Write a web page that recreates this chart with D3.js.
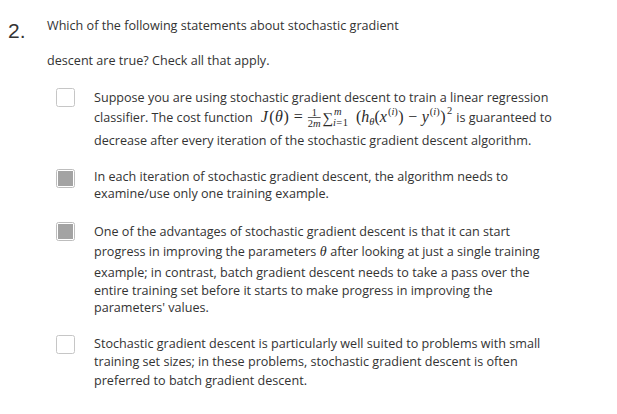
<!DOCTYPE html>
<html>
<head>
<meta charset="utf-8">
<script src="https://cdn.jsdelivr.net/npm/d3@7"></script>
<style>
  html, body { margin: 0; padding: 0; background: #fff; }
  svg { display: block; }
  .txt { font-family: "Open Sans", sans-serif; font-size: 12.6px; fill: #333; }
  .num { font-family: "Liberation Sans", Arial, sans-serif; font-size: 21px; fill: #333; }
  .math { font-family: "Liberation Serif", serif; font-style: italic; fill: #2a2a2a; }
</style>
</head>
<body>
<div class="quiz"></div>
<script>
// question data
let questionNo = '2.';
let questionLines = [
  'Which of the following statements about stochastic gradient',
  'descent are true? Check all that apply.'
];
let questionBaselines = [30, 65];

let optionChecked = [false, true, true, false];
let optionBoxTop = [88, 169, 222, 335];
let optionLines = [
  ['Suppose you are using stochastic gradient descent to train a linear regression',
   'classifier. The cost function',   // formula is drawn after this
   'decrease after every iteration of the stochastic gradient descent algorithm.'],
  ['In each iteration of stochastic gradient descent, the algorithm needs to',
   'examine/use only one training example.'],
  ['One of the advantages of stochastic gradient descent is that it can start',
   'progress in improving the parameters',  // θ drawn after this
   'example; in contrast, batch gradient descent needs to take a pass over the',
   'entire training set before it starts to make progress in improving the',
   'parameters\' values.'],
  ['Stochastic gradient descent is particularly well suited to problems with small',
   'training set sizes; in these problems, stochastic gradient descent is often',
   'preferred to batch gradient descent.']
];
let optionBaselines = [
  [102, 122, 145],
  [181, 198],
  [236, 256, 277, 295, 312],
  [348, 366, 385]
];

let svg = d3.select('.quiz')
  .append('svg')
  .attr('width', 617)
  .attr('height', 414);

svg.append('text')
  .attr('class', 'num')
  .attr('x', 8)
  .attr('y', 38)
  .text(questionNo);

svg.selectAll('text.q')
  .data(questionLines)
  .enter()
  .append('text')
  .attr('class', 'txt q')
  .attr('x', 47)
  .attr('y', (d, i) => questionBaselines[i])
  .text((d) => d);

// checkboxes
let boxes = svg.selectAll('g.box')
  .data(optionChecked)
  .enter()
  .append('g')
  .attr('class', 'box')
  .attr('transform', (d, i) => 'translate(56,' + optionBoxTop[i] + ')');

boxes.append('rect')
  .attr('x', 0.5)
  .attr('y', 0.5)
  .attr('width', 18)
  .attr('height', 18)
  .attr('rx', 2)
  .attr('fill', '#fff')
  .attr('stroke', (d) => d ? '#bdbdbd' : '#c6c6c6');

boxes.filter((d) => d)
  .append('rect')
  .attr('x', 2)
  .attr('y', 2)
  .attr('width', 15)
  .attr('height', 15)
  .attr('fill', '#a3a3a3');

// option texts
optionLines.forEach((lines, k) => {
  svg.selectAll('text.o' + k)
    .data(lines)
    .enter()
    .append('text')
    .attr('class', 'txt o' + k)
    .attr('x', 94)
    .attr('y', (d, i) => optionBaselines[k][i])
    .text((d) => d);
});

// helper: place pieces one after another, returns the new x
function piece(x, y, t, size, italic, serif) {
  let el = svg.append('text')
    .attr('class', serif ? 'math' : 'txt')
    .attr('x', x)
    .attr('y', y)
    .style('font-size', size + 'px')
    .style('font-style', italic ? 'italic' : 'normal')
    .text(t);
  return x + el.node().getComputedTextLength();
}
function measure(t, size, italic) {
  let el = svg.append('text')
    .attr('class', 'math')
    .style('font-size', size + 'px')
    .style('font-style', italic ? 'italic' : 'normal')
    .text(t);
  let w = el.node().getComputedTextLength();
  el.remove();
  return w;
}

let M = 16, S = 10.5;

// formula on option 1, line 2
let y1 = optionBaselines[0][1];
let l1 = svg.selectAll('text.o0').nodes()[1];
let cx = 94 + l1.getComputedTextLength() + 8;
cx = piece(cx, y1, 'J', M, true, true) + 1.5;
cx = piece(cx, y1, '(', M, false, true);
cx = piece(cx + 0.5, y1, 'θ', M, true, true) + 0.5;
cx = piece(cx, y1, ')', M, false, true);
cx = piece(cx + 5, y1, '=', M, false, true) + 5;
// fraction 1/2m
let fx = cx;
let wDen = measure('2', S, false) + measure('m', S, true);
piece(fx + wDen / 2 - 2.6, y1 - 6.5, '1', S, false, true);
svg.append('line')
  .attr('x1', fx).attr('x2', fx + wDen)
  .attr('y1', y1 - 4.5).attr('y2', y1 - 4.5)
  .attr('stroke', '#333').attr('stroke-width', 0.8);
let dx = piece(fx, y1 + 5, '2', S, false, true);
piece(dx, y1 + 5, 'm', S, true, true);
cx = fx + wDen + 1.5;
cx = piece(cx, y1 + 1, '∑', 15, false, true);
piece(cx + 1, y1 - 7, 'm', S, true, true);
let ix = piece(cx, y1 + 4, 'i', S, true, true);
ix = piece(ix + 0.5, y1 + 4, '=', S, false, true);
ix = piece(ix + 0.5, y1 + 4, '1', S, false, true);
cx = ix + 8;
cx = piece(cx, y1, '(', M, false, true);
cx = piece(cx, y1, 'h', M, true, true);
cx = piece(cx, y1 + 3, 'θ', S, true, true);
cx = piece(cx, y1, '(', M, false, true);
cx = piece(cx, y1, 'x', M, true, true);
cx = piece(cx + 1, y1 - 7, '(', S, false, true);
cx = piece(cx, y1 - 7, 'i', S, true, true);
cx = piece(cx, y1 - 7, ')', S, false, true);
cx = piece(cx + 0.5, y1, ')', M, false, true);
cx = piece(cx + 4.5, y1, '−', M, false, true) + 4.5;
cx = piece(cx, y1, 'y', M, true, true);
cx = piece(cx + 1, y1 - 7, '(', S, false, true);
cx = piece(cx, y1 - 7, 'i', S, true, true);
cx = piece(cx, y1 - 7, ')', S, false, true);
cx = piece(cx + 0.5, y1, ')', M, false, true);
cx = piece(cx + 1.5, y1 - 8, '2', S, false, true);
piece(cx + 4, y1, 'is guaranteed to', 12.6, false, false);

// theta on option 3, line 2
let y3 = optionBaselines[2][1];
let l3 = svg.selectAll('text.o2').nodes()[1];
let tx = 94 + l3.getComputedTextLength() + 3.5;
tx = piece(tx, y3, 'θ', 14, true, true);
piece(tx + 3.5, y3, 'after looking at just a single training', 12.6, false, false);
</script>
</body>
</html>
